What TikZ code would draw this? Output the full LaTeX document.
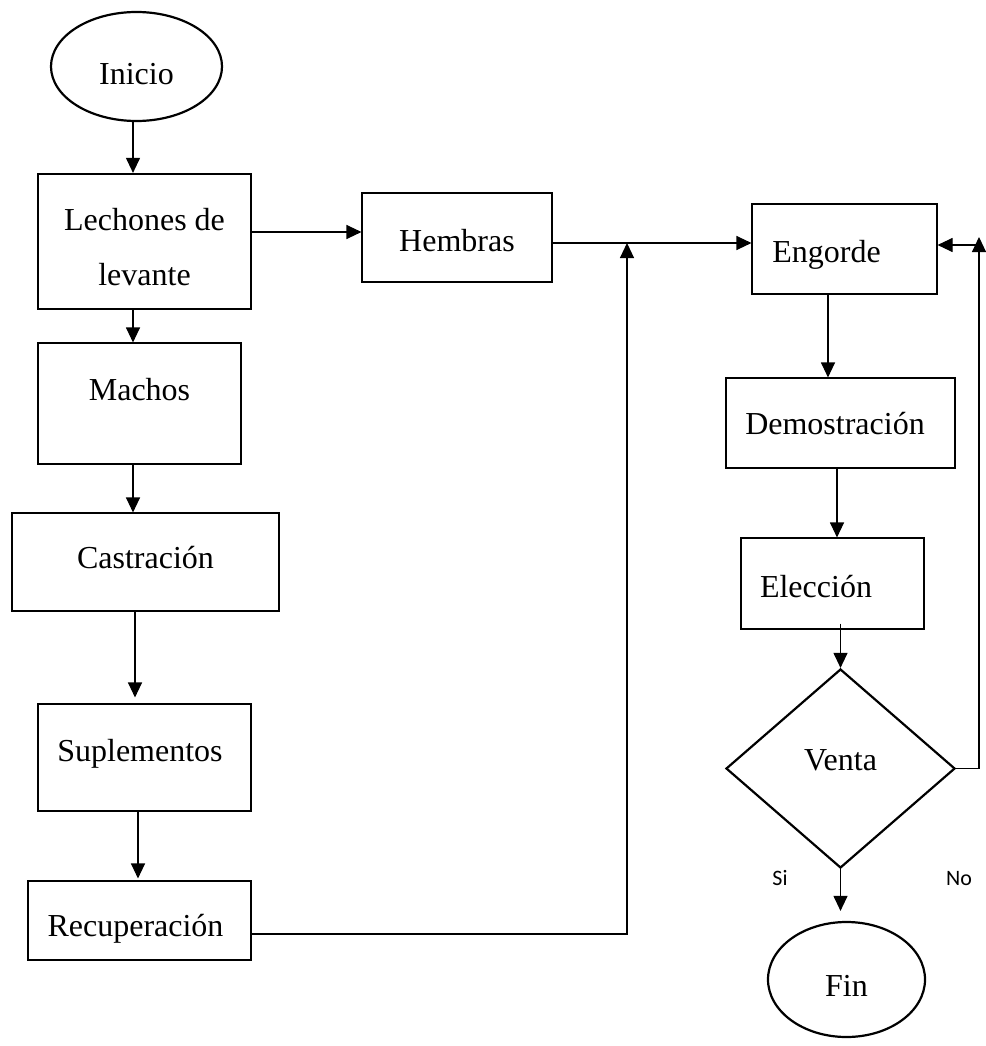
\documentclass[tikz,border=0pt]{standalone}
\usepackage{fontspec}
\setmainfont{Liberation Serif}
\newfontfamily\calibri{Carlito}
\usepackage{tikz}
\usetikzlibrary{arrows.meta,shapes.geometric}
\tikzset{>={Triangle[width=14pt,length=15pt]}}

\begin{document}
\begin{tikzpicture}[x=1pt, y=-1pt,
    every node/.style={font=\fontsize{32}{38}\selectfont},
    caja/.style={draw, line width=1.1pt, inner sep=0pt},
    gruesa/.style={draw, line width=2.2pt, inner sep=0pt},
    txt/.style={inner sep=0pt, text height=21pt, text depth=0pt},
    sino/.style={inner sep=0pt, text height=14pt, text depth=0pt, font=\calibri\fontsize{22}{26}\selectfont},
    flecha/.style={->, line width=1.1pt}]
        \useasboundingbox (0,0) rectangle (985,1046);
        % columna de los machos
        \node[gruesa, ellipse, minimum width=171, minimum height=109, label={[txt, yshift=-7.5]center:Inicio}] (inicio) at (136.5,66.5) {};
        \node[gruesa, minimum width=213, minimum height=135, label={[inner sep=0pt, align=center, font=\fontsize{32}{55}\selectfont, yshift=-6]center:Lechones de\\levante}] (lechones) at (144.5,241.5) {};
        \node[caja, minimum width=203, minimum height=121, label={[txt, yshift=13.5]center:Machos}] (machos) at (139.5,403.5) {};
        \node[caja, minimum width=267, minimum height=98, label={[txt, yshift=4]center:Castración}] (castracion) at (145.5,562) {};
        \node[caja, minimum width=213, minimum height=107, label={[txt, xshift=-4.5, yshift=6.5]center:Suplementos}] (suplementos) at (144.5,757.5) {};
        \node[caja, minimum width=223, minimum height=79, label={[txt, xshift=-4, yshift=-5.5]center:Recuperación}] (recuperacion) at (139.5,920.5) {};
        \node[caja, minimum width=190, minimum height=89, label={[txt, yshift=-3.5]center:Hembras}] (hembras) at (457,237.5) {};
        % columna de engorde y venta
        \node[caja, minimum width=185, minimum height=90, label={[txt, xshift=-18, yshift=-3]center:Engorde}] (engorde) at (844.5,249) {};
        \node[caja, minimum width=229, minimum height=90, label={[txt, xshift=-5.5, yshift=-1]center:Demostración}] (demostracion) at (840.5,423) {};
        \node[caja, minimum width=183, minimum height=91, label={[txt, xshift=-16.5, yshift=-3.5]center:Elección}] (eleccion) at (832.5,583.5) {};
        \node[gruesa, diamond, minimum width=229, minimum height=199, label={[txt, yshift=8.5]center:Venta}] (venta) at (840.5,768.5) {};
        \node[gruesa, ellipse, minimum width=157, minimum height=115, label={[txt, yshift=-6.5]center:Fin}] (fin) at (846.5,979.5) {};
        \node[sino] (si) at (780,878) {Si};
        \node[sino] (no) at (959,878) {No};
        \coordinate (union) at (627,243);
        \coordinate (vuelta) at (979,237);

        \draw[flecha] ([xshift=-3.5]inicio.south) -- ([xshift=-3.5]inicio.south |- lechones.north);
        \draw[flecha] ([xshift=-11.5]lechones.south) -- ([xshift=-11.5]lechones.south |- machos.north);
        \draw[flecha] ([xshift=-6.5]machos.south) -- ([xshift=-6.5]machos.south |- castracion.north);
        \draw[flecha, shorten >=6] ([xshift=-10.5]castracion.south) -- ([xshift=-10.5]castracion.south |- suplementos.north);
        \draw[flecha, shorten >=2] ([xshift=-6.5]suplementos.south) -- ([xshift=-6.5]suplementos.south |- recuperacion.north);
        \draw[flecha] ([yshift=9.5]lechones.east) -- ([yshift=9.5]lechones.east -| hembras.west);
        \draw[flecha] ([yshift=-5.5]hembras.east) -- ([yshift=-5.5]hembras.east -| engorde.west);
        \draw[flecha] ([yshift=-13.5]recuperacion.east) -| (union);
        \draw[flecha] ([xshift=-16.5]engorde.south) -- ([xshift=-16.5]engorde.south |- demostracion.north);
        \draw[flecha] ([xshift=-3.5]demostracion.south) -- ([xshift=-3.5]demostracion.south |- eleccion.north);
        \draw[flecha] ([yshift=6]eleccion.south -| venta.north) -- (venta.north);
        \draw[flecha, shorten >=10] (venta.south) -- (venta.south |- fin.north);
        \draw[flecha] (venta.east) -| (vuelta);
        \draw[flecha] ([yshift=-8]vuelta) -- ([yshift=-8]vuelta -| engorde.east);
\end{tikzpicture}
\end{document}
